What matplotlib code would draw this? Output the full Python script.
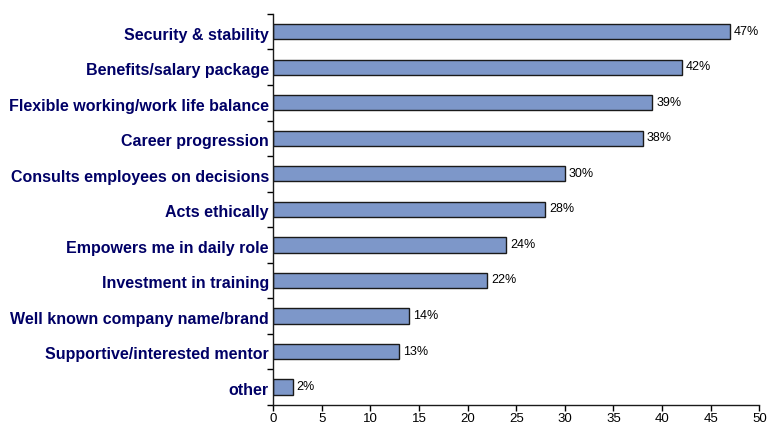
import numpy as np
import matplotlib.pyplot as plt

categories = [
    "Security & stability",
    "Benefits/salary package",
    "Flexible working/work life balance",
    "Career progression",
    "Consults employees on decisions",
    "Acts ethically",
    "Empowers me in daily role",
    "Investment in training",
    "Well known company name/brand",
    "Supportive/interested mentor",
    "other",
]
values = [47, 42, 39, 38, 30, 28, 24, 22, 14, 13, 2]
xticks = list(range(0, 55, 5))

plt.rcParams['font.family'] = ['Liberation Sans', 'DejaVu Sans']

fig = plt.figure(figsize=(7.67, 4.23), dpi=100)
ax = fig.add_axes([0.356, 0.043, 0.634, 0.924])

y = np.arange(len(categories))
ax.barh(y, values, height=0.43, color='#7D97C9', edgecolor='#1a1a1a', linewidth=1.0)

for yi, v in zip(y, values):
    ax.text(v + 0.4, yi, f"{v}%", va='center', ha='left', fontsize=9, color='black')

ax.set_ylim(len(categories) - 0.5, -0.5)
ax.set_xlim(0, 50)
ax.set_xticks(xticks)
ax.set_xticklabels([str(t) for t in xticks], fontsize=9.5)

# category ticks between bars, labels centred on bars
ax.set_yticks(y + 0.05)
ax.set_yticklabels(categories, fontsize=11.5, fontweight='bold', color='#000066')
ax.tick_params(axis='y', length=0, pad=3)
ax.set_yticks(np.arange(-0.5, len(categories), 1), minor=True)
ax.tick_params(axis='y', which='minor', length=4, width=1, direction='out')
ax.tick_params(axis='x', length=4, width=1, direction='out', pad=2)

for s in ['top', 'right']:
    ax.spines[s].set_visible(False)
for s in ['left', 'bottom']:
    ax.spines[s].set_linewidth(1.0)
    ax.spines[s].set_color('#1a1a1a')

fig.savefig('out.png', dpi=100)
